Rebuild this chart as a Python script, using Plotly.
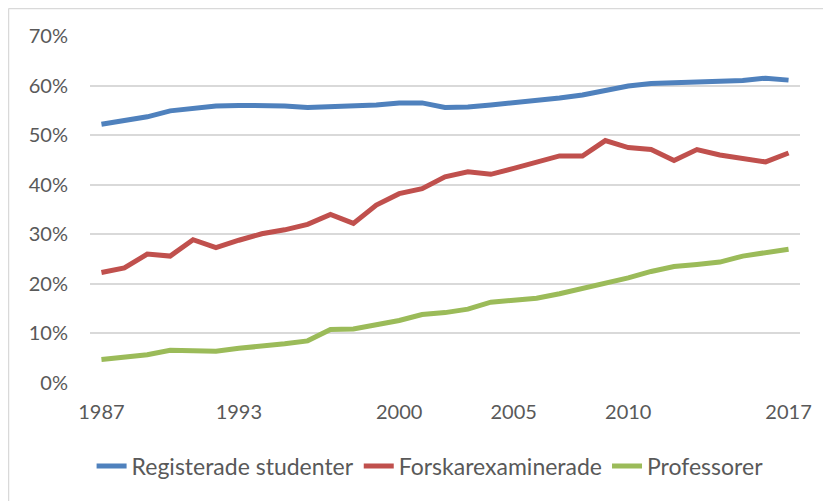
import plotly.graph_objects as go

years = list(range(1987, 2018))
registerade = [52.2, 53.0, 53.7, 54.9, 55.5, 55.9, 56.0, 56.0, 55.9, 55.6, 55.7, 55.9, 56.1, 56.5, 56.5, 55.6,
               55.7, 56.1, 56.5, 57.0, 57.5, 58.1, 59.0, 59.9, 60.4, 60.6, 60.6, 60.8, 61.0, 61.5, 61.1]
forskare = [22.3, 23.2, 26.0, 25.6, 28.9, 27.3, 28.8, 30.1, 30.9, 32.0, 34.0, 32.2, 35.9, 38.2, 39.2, 41.6,
            42.6, 42.1, 43.3, 44.6, 45.8, 45.8, 48.9, 47.5, 47.1, 44.9, 47.1, 46.0, 45.4, 44.6, 46.4]
professorer = [4.75, 5.2, 5.7, 6.6, 6.4, 6.4, 7.0, 7.4, 7.9, 8.5, 10.8, 10.9, 11.8, 12.6, 13.8, 14.2,
               14.9, 16.3, 16.7, 17.1, 18.0, 19.0, 20.0, 21.2, 22.5, 23.5, 23.9, 24.4, 25.6, 26.4, 27.0]
tick_years = [1987, 1993, 2000, 2005, 2010, 2017]
y_ticks = [0, 10, 20, 30, 40, 50, 60, 70]

names = ["Registerade studenter", "Forskarexaminerade", "Professorer"]
colors = ["#4F81BD", "#C0504D", "#9BBB59"]
FONT = "Lato, sans-serif"

fig = go.Figure()
for name, vals, col in zip(names, [registerade, forskare, professorer], colors):
    fig.add_trace(go.Scatter(x=[str(y) for y in years], y=[v / 100 for v in vals], name=name,
                             mode="lines", line=dict(color=col, width=5)))

fig.update_layout(
    width=831, height=501,
    margin=dict(l=82, r=39, t=28, b=126),
    paper_bgcolor="white", plot_bgcolor="white",
    font=dict(family=FONT, size=20, color="#595959"),
    showlegend=True,
    legend=dict(orientation="h", x=0.479, xanchor="center", y=-0.239, yanchor="middle",
                font=dict(size=23, color="#595959"), tracegroupgap=0),
    shapes=[dict(type="line", xref="paper", yref="paper", x0=-0.1148, x1=1.2, y0=1.079, y1=1.079,
                 line=dict(color="#d9d9d9", width=1.5)),
            dict(type="line", xref="paper", yref="paper", x0=-0.1148, x1=-0.1148, y0=1.079, y1=-0.5,
                 line=dict(color="#d9d9d9", width=1.5))],
)
fig.update_xaxes(type="category", range=[-0.5, len(years) - 0.5], tickmode="array",
                 tickvals=[str(y) for y in tick_years], ticktext=[str(y) for y in tick_years],
                 showgrid=False, showline=False, ticks="", ticklabelstandoff=15, zeroline=False)
fig.update_yaxes(range=[0, 0.7], tickmode="array", tickvals=[v / 100 for v in y_ticks],
                 ticktext=[f"{v}%" for v in y_ticks], showgrid=True, gridcolor="#d9d9d9",
                 gridwidth=1.5, showline=False, zeroline=False, ticks="", ticklabelstandoff=21)

fig.write_html("out.html")
